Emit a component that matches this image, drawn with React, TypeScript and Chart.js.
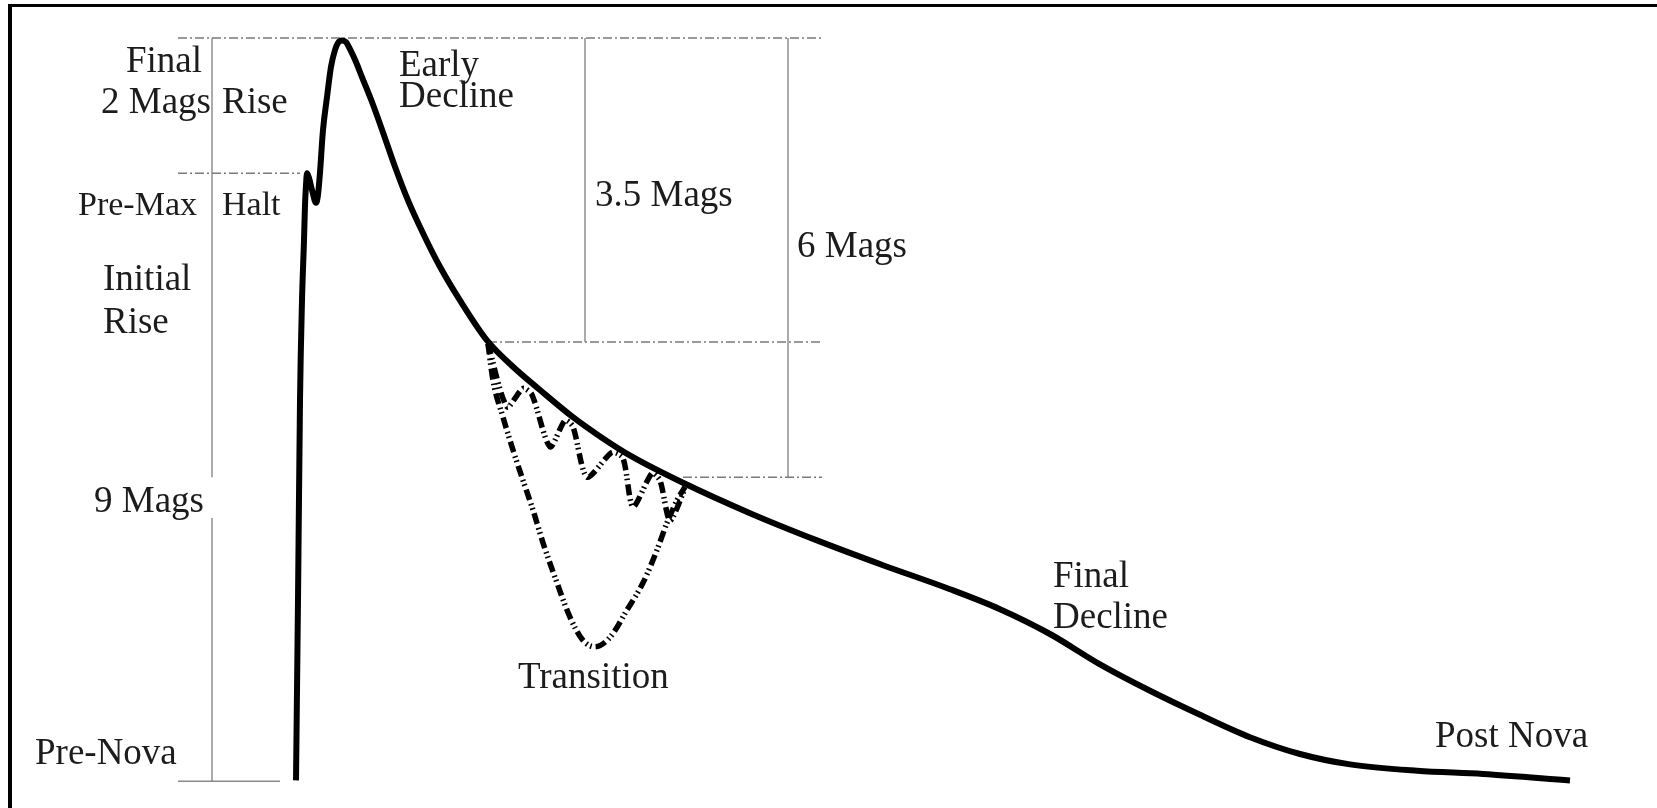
import React, { useEffect, useRef } from "react";
import { Chart, registerables } from "chart.js";

Chart.register(...registerables);

// Time since outburst (arbitrary units) and magnitude below maximum
const mainT = [0, 0.2, 0.4, 0.6, 0.8, 0.9, 1.0, 1.1, 1.3, 1.6, 2.0, 2.2, 2.4, 2.7, 3.1, 3.5, 3.9, 4.2, 4.6, 5.0, 5.4, 6.0, 6.6, 7.6, 8.7, 9.9, 11.2, 12.7, 14.4, 16.4, 19.1, 21.7, 24.4, 27.7, 30.4, 33.7, 38.7, 45.4, 52.1, 58.7, 65.4, 70.4, 75.4, 80.4, 85.4, 90.4, 95.4, 100.4, 105.4, 112.1, 118.7, 127.4];
const mainMag = [9.28, 7.03, 4.53, 3.28, 2.53, 2.09, 1.84, 1.69, 1.75, 1.9, 2.06, 1.96, 1.68, 1.15, 0.74, 0.36, 0.15, 0.06, 0.03, 0.05, 0.14, 0.3, 0.49, 0.8, 1.18, 1.61, 2.03, 2.44, 2.86, 3.28, 3.78, 4.11, 4.4, 4.74, 4.98, 5.24, 5.56, 5.94, 6.28, 6.59, 6.89, 7.14, 7.45, 7.83, 8.16, 8.46, 8.74, 8.95, 9.08, 9.16, 9.2, 9.28];

const oscT = [19.2, 21.1, 22.7, 23.6, 25.4, 26.9, 27.7, 29.1, 31.6, 32.7, 33.7, 35.6, 36.4, 37.4, 38.9];
const oscMag = [3.82, 4.61, 4.38, 4.46, 5.11, 4.78, 4.86, 5.49, 5.18, 5.25, 5.86, 5.44, 5.53, 6.03, 5.63];

const dipT = [19.2, 19.7, 20.7, 21.7, 22.7, 23.7, 24.7, 26.1, 27.4, 28.7, 29.9, 31.4, 33.1, 34.7, 36.1, 37.1, 38.1, 38.9];
const dipMag = [3.82, 4.28, 4.74, 5.15, 5.53, 5.9, 6.31, 6.81, 7.24, 7.53, 7.61, 7.49, 7.15, 6.81, 6.4, 6.06, 5.78, 5.61];

// Reference levels (magnitudes) and their horizontal extents
const levelMag = [0, 1.69, 3.8, 5.49];
const levelStartT = [-11.8, -11.8, 19.2, 38.7];
const levelEndT = [52.6, 0.4, 52.6, 52.6];
const preNovaMag = 9.29;
const preNovaT = [-11.8, -1.6];

// Vertical measure bars
const barT = [-8.4, 28.9, 49.2];
const barTopMag = [0, 0, 0];
const barBottomMag = [9.29, 3.8, 5.49];
const barGapMag = [5.49, 6.0]; // gap for the "9 Mags" label on the first bar

// Labels
const labelText = ["Final", "2 Mags", "Rise", "Pre-Max", "Halt", "Initial", "Rise", "9 Mags", "Pre-Nova", "Early", "Decline", "3.5 Mags", "6 Mags", "Transition", "Final", "Decline", "Post Nova"];
const labelT = [-9.4, -8.5, -7.4, -21.8, -7.4, -19.3, -19.3, -9.2, -26.1, 10.3, 10.3, 29.9, 50.1, 22.2, 75.7, 75.7, 113.9];
const labelMag = [0.43, 0.94, 0.94, 2.21, 2.21, 3.15, 3.69, 5.93, 9.08, 0.47, 0.86, 2.1, 2.74, 8.13, 6.86, 7.38, 8.86];
const labelAlign = ["right", "right", "left", "left", "left", "left", "left", "right", "left", "left", "left", "left", "left", "left", "left", "left", "left"];
const labelSize = [37, 37, 37, 34, 34, 37, 37, 37, 37, 37, 37, 37, 37, 37, 37, 37, 37];

const W = 1657;
const H = 808;

const labelPlugin = {
  id: "labels",
  afterDraw(chart: any) {
    const { ctx, scales } = chart;
    ctx.save();
    ctx.fillStyle = "#1c1c1c";
    ctx.textBaseline = "alphabetic";
    labelText.forEach((txt, i) => {
      ctx.font = `${labelSize[i]}px "Liberation Serif", "DejaVu Serif", serif`;
      ctx.textAlign = labelAlign[i] as CanvasTextAlign;
      ctx.fillText(txt, scales.x.getPixelForValue(labelT[i]), scales.y.getPixelForValue(labelMag[i]));
    });
    ctx.restore();
  },
};

export default function App() {
  const ref = useRef<HTMLCanvasElement | null>(null);
  useEffect(() => {
    document.body.style.margin = "0";
    const canvas = ref.current!;
    const datasets: any[] = [];
    datasets.push({
      data: mainT.map((t, i) => ({ x: t, y: mainMag[i] })),
      borderColor: "#000",
      borderWidth: 6,
      pointRadius: 0,
      cubicInterpolationMode: "monotone",
      borderJoinStyle: "round",
      order: 0,
    });
    const transitionDash = [11, 4, 1.6, 3, 1.6, 4];
    datasets.push({
      data: oscT.map((t, i) => ({ x: t, y: oscMag[i] })),
      borderColor: "#000",
      borderWidth: 5.5,
      borderDash: transitionDash,
      borderCapStyle: "butt",
      pointRadius: 0,
      tension: 0.25,
      order: 1,
    });
    datasets.push({
      data: dipT.map((t, i) => ({ x: t, y: dipMag[i] })),
      borderColor: "#000",
      borderWidth: 5.5,
      borderDash: transitionDash,
      borderCapStyle: "butt",
      pointRadius: 0,
      cubicInterpolationMode: "monotone",
      order: 1,
    });
    levelMag.forEach((m, i) => {
      datasets.push({
        data: [
          { x: levelStartT[i], y: m },
          { x: levelEndT[i], y: m },
        ],
        borderColor: "#7a7a7a",
        borderWidth: 1.5,
        borderDash: [9, 3, 2, 3],
        pointRadius: 0,
        order: 2,
      });
    });
    datasets.push({
      data: [
        { x: preNovaT[0], y: preNovaMag },
        { x: preNovaT[1], y: preNovaMag },
      ],
      borderColor: "#8a8a8a",
      borderWidth: 1.5,
      pointRadius: 0,
      order: 2,
    });
    barT.forEach((t, i) => {
      const pts: any[] =
        i === 0
          ? [
              { x: t, y: barTopMag[i] },
              { x: t, y: barGapMag[0] },
              { x: t, y: null },
              { x: t, y: barGapMag[1] },
              { x: t, y: barBottomMag[i] },
            ]
          : [
              { x: t, y: barTopMag[i] },
              { x: t, y: barBottomMag[i] },
            ];
      datasets.push({
        data: pts,
        borderColor: "#909090",
        borderWidth: 1.5,
        pointRadius: 0,
        spanGaps: false,
        order: 2,
      });
    });

    const chart = new Chart(canvas, {
      type: "line",
      data: { datasets },
      options: {
        animation: false,
        responsive: false,
        devicePixelRatio: 1,
        layout: { padding: 0 },
        plugins: { legend: { display: false }, tooltip: { enabled: false } },
        scales: {
          x: { type: "linear", min: -29.6, max: 136.1, display: false },
          y: { type: "linear", min: -0.475, max: 9.625, reverse: true, display: false },
        },
      },
      plugins: [labelPlugin],
    });
    return () => chart.destroy();
  }, []);

  return (
    <div style={{ position: "relative", width: W, height: H, background: "#fff", overflow: "hidden" }}>
      <canvas ref={ref} width={W} height={H} style={{ position: "absolute", left: 0, top: 0 }} />
      <div
        style={{
          position: "absolute",
          left: 8,
          top: 4,
          width: W,
          height: H,
          borderTop: "3px solid #000",
          borderLeft: "4px solid #000",
          pointerEvents: "none",
        }}
      />
    </div>
  );
}
